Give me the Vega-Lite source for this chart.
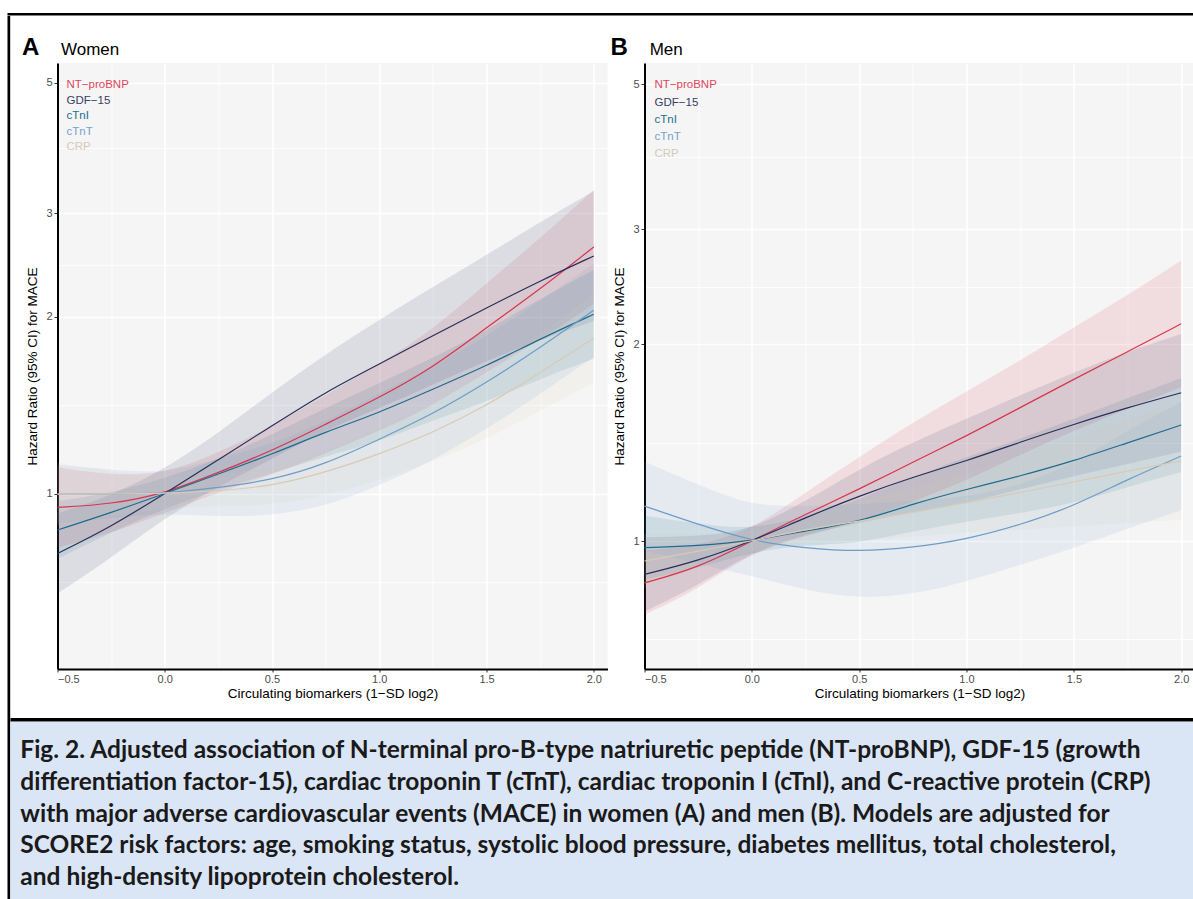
{
  "$schema": "https://vega.github.io/schema/vega-lite/v6.json",
  "padding": {"left": 7.5, "top": 13, "right": 0, "bottom": 0},
  "autosize": {"type": "pad"},
  "background": "white",
  "config": {
    "view": {"stroke": null},
    "font": "Liberation Sans",
    "axis": {"labelFont": "Liberation Sans", "titleFont": "Liberation Sans"},
    "legend": {"labelFont": "Liberation Sans"}
  },
  "datasets": {
    "women": [
      {"m": "NT−proBNP", "x": -0.5, "hr": 0.947, "lo": 0.809, "hi": 1.108},
      {"m": "NT−proBNP", "x": -0.25, "hr": 0.959, "lo": 0.856, "hi": 1.074},
      {"m": "NT−proBNP", "x": 0, "hr": 1, "lo": 0.926, "hi": 1.08},
      {"m": "NT−proBNP", "x": 0.25, "hr": 1.086, "lo": 1.006, "hi": 1.173},
      {"m": "NT−proBNP", "x": 0.5, "hr": 1.182, "lo": 1.075, "hi": 1.3},
      {"m": "NT−proBNP", "x": 0.75, "hr": 1.312, "lo": 1.171, "hi": 1.469},
      {"m": "NT−proBNP", "x": 1, "hr": 1.456, "lo": 1.277, "hi": 1.66},
      {"m": "NT−proBNP", "x": 1.25, "hr": 1.638, "lo": 1.412, "hi": 1.9},
      {"m": "NT−proBNP", "x": 1.5, "hr": 1.916, "lo": 1.61, "hi": 2.28},
      {"m": "NT−proBNP", "x": 1.75, "hr": 2.226, "lo": 1.825, "hi": 2.716},
      {"m": "NT−proBNP", "x": 2, "hr": 2.627, "lo": 2.102, "hi": 3.284},
      {"m": "GDF−15", "x": -0.5, "hr": 0.791, "lo": 0.676, "hi": 0.925},
      {"m": "GDF−15", "x": -0.25, "hr": 0.878, "lo": 0.777, "hi": 0.992},
      {"m": "GDF−15", "x": 0, "hr": 1, "lo": 0.909, "hi": 1.1},
      {"m": "GDF−15", "x": 0.25, "hr": 1.142, "lo": 1.029, "hi": 1.268},
      {"m": "GDF−15", "x": 0.5, "hr": 1.304, "lo": 1.144, "hi": 1.487},
      {"m": "GDF−15", "x": 0.75, "hr": 1.489, "lo": 1.284, "hi": 1.727},
      {"m": "GDF−15", "x": 1, "hr": 1.66, "lo": 1.395, "hi": 1.975},
      {"m": "GDF−15", "x": 1.25, "hr": 1.856, "lo": 1.534, "hi": 2.246},
      {"m": "GDF−15", "x": 1.5, "hr": 2.07, "lo": 1.683, "hi": 2.546},
      {"m": "GDF−15", "x": 1.75, "hr": 2.3, "lo": 1.825, "hi": 2.898},
      {"m": "GDF−15", "x": 2, "hr": 2.536, "lo": 1.966, "hi": 3.271},
      {"m": "cTnI", "x": -0.5, "hr": 0.867, "lo": 0.774, "hi": 0.971},
      {"m": "cTnI", "x": -0.25, "hr": 0.928, "lo": 0.859, "hi": 1.002},
      {"m": "cTnI", "x": 0, "hr": 1, "lo": 0.943, "hi": 1.06},
      {"m": "cTnI", "x": 0.25, "hr": 1.079, "lo": 1.018, "hi": 1.144},
      {"m": "cTnI", "x": 0.5, "hr": 1.167, "lo": 1.081, "hi": 1.26},
      {"m": "cTnI", "x": 0.75, "hr": 1.273, "lo": 1.157, "hi": 1.4},
      {"m": "cTnI", "x": 1, "hr": 1.373, "lo": 1.226, "hi": 1.538},
      {"m": "cTnI", "x": 1.25, "hr": 1.505, "lo": 1.332, "hi": 1.701},
      {"m": "cTnI", "x": 1.5, "hr": 1.649, "lo": 1.434, "hi": 1.896},
      {"m": "cTnI", "x": 1.75, "hr": 1.832, "lo": 1.566, "hi": 2.143},
      {"m": "cTnI", "x": 2, "hr": 2.018, "lo": 1.696, "hi": 2.401},
      {"m": "cTnT", "x": -0.5, "hr": 0.998, "lo": 0.891, "hi": 1.118},
      {"m": "cTnT", "x": -0.25, "hr": 0.999, "lo": 0.908, "hi": 1.099},
      {"m": "cTnT", "x": 0, "hr": 1, "lo": 0.926, "hi": 1.08},
      {"m": "cTnT", "x": 0.25, "hr": 1.024, "lo": 0.914, "hi": 1.147},
      {"m": "cTnT", "x": 0.5, "hr": 1.054, "lo": 0.917, "hi": 1.212},
      {"m": "cTnT", "x": 0.75, "hr": 1.122, "lo": 0.951, "hi": 1.324},
      {"m": "cTnT", "x": 1, "hr": 1.237, "lo": 1.031, "hi": 1.484},
      {"m": "cTnT", "x": 1.25, "hr": 1.365, "lo": 1.138, "hi": 1.638},
      {"m": "cTnT", "x": 1.5, "hr": 1.544, "lo": 1.287, "hi": 1.853},
      {"m": "cTnT", "x": 1.75, "hr": 1.771, "lo": 1.476, "hi": 2.125},
      {"m": "cTnT", "x": 2, "hr": 2.05, "lo": 1.708, "hi": 2.46},
      {"m": "CRP", "x": -0.5, "hr": 0.998, "lo": 0.883, "hi": 1.128},
      {"m": "CRP", "x": -0.25, "hr": 0.999, "lo": 0.917, "hi": 1.089},
      {"m": "CRP", "x": 0, "hr": 1, "lo": 0.943, "hi": 1.06},
      {"m": "CRP", "x": 0.25, "hr": 1.01, "lo": 0.953, "hi": 1.071},
      {"m": "CRP", "x": 0.5, "hr": 1.03, "lo": 0.954, "hi": 1.112},
      {"m": "CRP", "x": 0.75, "hr": 1.086, "lo": 0.996, "hi": 1.184},
      {"m": "CRP", "x": 1, "hr": 1.167, "lo": 1.051, "hi": 1.295},
      {"m": "CRP", "x": 1.25, "hr": 1.27, "lo": 1.134, "hi": 1.422},
      {"m": "CRP", "x": 1.5, "hr": 1.41, "lo": 1.237, "hi": 1.607},
      {"m": "CRP", "x": 1.75, "hr": 1.606, "lo": 1.384, "hi": 1.863},
      {"m": "CRP", "x": 2, "hr": 1.838, "lo": 1.545, "hi": 2.187}
    ],
    "men": [
      {"m": "NT−proBNP", "x": -0.5, "hr": 0.863, "lo": 0.771, "hi": 0.967},
      {"m": "NT−proBNP", "x": -0.25, "hr": 0.91, "lo": 0.843, "hi": 0.983},
      {"m": "NT−proBNP", "x": 0, "hr": 1, "lo": 0.962, "hi": 1.04},
      {"m": "NT−proBNP", "x": 0.25, "hr": 1.099, "lo": 1.018, "hi": 1.187},
      {"m": "NT−proBNP", "x": 0.5, "hr": 1.2, "lo": 1.071, "hi": 1.344},
      {"m": "NT−proBNP", "x": 0.75, "hr": 1.321, "lo": 1.149, "hi": 1.519},
      {"m": "NT−proBNP", "x": 1, "hr": 1.448, "lo": 1.238, "hi": 1.694},
      {"m": "NT−proBNP", "x": 1.25, "hr": 1.6, "lo": 1.356, "hi": 1.888},
      {"m": "NT−proBNP", "x": 1.5, "hr": 1.769, "lo": 1.474, "hi": 2.123},
      {"m": "NT−proBNP", "x": 1.75, "hr": 1.948, "lo": 1.597, "hi": 2.377},
      {"m": "NT−proBNP", "x": 2, "hr": 2.15, "lo": 1.72, "hi": 2.688},
      {"m": "GDF−15", "x": -0.5, "hr": 0.889, "lo": 0.78, "hi": 1.013},
      {"m": "GDF−15", "x": -0.25, "hr": 0.932, "lo": 0.855, "hi": 1.016},
      {"m": "GDF−15", "x": 0, "hr": 1, "lo": 0.962, "hi": 1.04},
      {"m": "GDF−15", "x": 0.25, "hr": 1.086, "lo": 1.025, "hi": 1.151},
      {"m": "GDF−15", "x": 0.5, "hr": 1.172, "lo": 1.065, "hi": 1.289},
      {"m": "GDF−15", "x": 0.75, "hr": 1.253, "lo": 1.109, "hi": 1.416},
      {"m": "GDF−15", "x": 1, "hr": 1.326, "lo": 1.143, "hi": 1.538},
      {"m": "GDF−15", "x": 1.25, "hr": 1.417, "lo": 1.201, "hi": 1.672},
      {"m": "GDF−15", "x": 1.5, "hr": 1.509, "lo": 1.258, "hi": 1.811},
      {"m": "GDF−15", "x": 1.75, "hr": 1.6, "lo": 1.311, "hi": 1.952},
      {"m": "GDF−15", "x": 2, "hr": 1.686, "lo": 1.371, "hi": 2.074},
      {"m": "cTnI", "x": -0.5, "hr": 0.977, "lo": 0.872, "hi": 1.094},
      {"m": "cTnI", "x": -0.25, "hr": 0.983, "lo": 0.91, "hi": 1.062},
      {"m": "cTnI", "x": 0, "hr": 1, "lo": 0.962, "hi": 1.04},
      {"m": "cTnI", "x": 0.25, "hr": 1.036, "lo": 0.987, "hi": 1.088},
      {"m": "cTnI", "x": 0.5, "hr": 1.07, "lo": 0.991, "hi": 1.156},
      {"m": "cTnI", "x": 0.75, "hr": 1.14, "lo": 1.036, "hi": 1.254},
      {"m": "cTnI", "x": 1, "hr": 1.2, "lo": 1.071, "hi": 1.344},
      {"m": "cTnI", "x": 1.25, "hr": 1.257, "lo": 1.103, "hi": 1.433},
      {"m": "cTnI", "x": 1.5, "hr": 1.326, "lo": 1.143, "hi": 1.538},
      {"m": "cTnI", "x": 1.75, "hr": 1.414, "lo": 1.209, "hi": 1.654},
      {"m": "cTnI", "x": 2, "hr": 1.505, "lo": 1.275, "hi": 1.776},
      {"m": "cTnT", "x": -0.5, "hr": 1.131, "lo": 0.967, "hi": 1.323},
      {"m": "cTnT", "x": -0.25, "hr": 1.06, "lo": 0.922, "hi": 1.219},
      {"m": "cTnT", "x": 0, "hr": 1, "lo": 0.885, "hi": 1.13},
      {"m": "cTnT", "x": 0.25, "hr": 0.975, "lo": 0.841, "hi": 1.131},
      {"m": "cTnT", "x": 0.5, "hr": 0.963, "lo": 0.816, "hi": 1.136},
      {"m": "cTnT", "x": 0.75, "hr": 0.977, "lo": 0.828, "hi": 1.153},
      {"m": "cTnT", "x": 1, "hr": 1.006, "lo": 0.867, "hi": 1.167},
      {"m": "cTnT", "x": 1.25, "hr": 1.058, "lo": 0.92, "hi": 1.217},
      {"m": "cTnT", "x": 1.5, "hr": 1.131, "lo": 0.975, "hi": 1.312},
      {"m": "cTnT", "x": 1.75, "hr": 1.243, "lo": 1.045, "hi": 1.479},
      {"m": "cTnT", "x": 2, "hr": 1.349, "lo": 1.115, "hi": 1.632},
      {"m": "CRP", "x": -0.5, "hr": 0.932, "lo": 0.847, "hi": 1.025},
      {"m": "CRP", "x": -0.25, "hr": 0.965, "lo": 0.91, "hi": 1.023},
      {"m": "CRP", "x": 0, "hr": 1, "lo": 0.971, "hi": 1.03},
      {"m": "CRP", "x": 0.25, "hr": 1.042, "lo": 0.992, "hi": 1.094},
      {"m": "CRP", "x": 0.5, "hr": 1.073, "lo": 1.003, "hi": 1.148},
      {"m": "CRP", "x": 0.75, "hr": 1.105, "lo": 1.014, "hi": 1.204},
      {"m": "CRP", "x": 1, "hr": 1.145, "lo": 1.032, "hi": 1.271},
      {"m": "CRP", "x": 1.25, "hr": 1.186, "lo": 1.04, "hi": 1.352},
      {"m": "CRP", "x": 1.5, "hr": 1.232, "lo": 1.053, "hi": 1.441},
      {"m": "CRP", "x": 1.75, "hr": 1.28, "lo": 1.067, "hi": 1.536},
      {"m": "CRP", "x": 2, "hr": 1.326, "lo": 1.078, "hi": 1.631}
    ],
    "caption": [
      {"i": 1, "t": "Fig. 2.  Adjusted association of N-terminal pro-B-type natriuretic peptide (NT-proBNP), GDF-15 (growth"},
      {"i": 2, "t": "differentiation factor-15), cardiac troponin T (cTnT), cardiac troponin I (cTnI), and C-reactive protein (CRP)"},
      {"i": 3, "t": "with major adverse cardiovascular events (MACE) in women (A) and men (B). Models are adjusted for"},
      {"i": 4, "t": "SCORE2 risk factors: age, smoking status, systolic blood pressure, diabetes mellitus, total cholesterol,"},
      {"i": 5, "t": "and high-density lipoprotein cholesterol."}
    ]
  },
  "bounds": "flush",
  "spacing": 0,
  "vconcat": [
    {"width": 1185.5, "height": 2.5, "view": {"fill": "black"}, "data": {"values": []}, "mark": "rect", "encoding": {}},
    {
      "bounds": "flush",
      "spacing": 0,
      "hconcat": [
        {"width": 2.7, "height": 883.5, "view": {"fill": "black"}, "data": {"values": []}, "mark": "rect", "encoding": {}},
        {
          "bounds": "flush",
          "spacing": 0,
          "vconcat": [
            {"width": 1182.8, "height": 46.5, "data": {"values": []}, "mark": "rect", "encoding": {}},
            {
              "bounds": "flush",
              "spacing": 0,
              "resolve": {"scale": {"color": "independent"}, "legend": {"color": "independent"}},
              "hconcat": [
                {
                  "width": 46.3, "height": 606, "data": {"values": []}, "mark": "rect", "encoding": {},
                  "title": {"text": "A", "anchor": "start", "frame": "group", "dx": 11.5, "offset": -15.5, "fontSize": 24, "fontWeight": "bold", "font": "Liberation Sans", "color": "black", "baseline": "alphabetic"}
                },
                {
                  "width": 550, "height": 606,
                  "view": {"fill": "#f5f5f5"},
                  "title": {"text": "Women", "anchor": "start", "frame": "group", "dx": 3.5, "offset": -9, "fontSize": 17, "fontWeight": "normal", "font": "Liberation Sans", "color": "black", "baseline": "alphabetic"},
                  "data": {"name": "women"},
                  "layer": [
                    {
                      "mark": {"type": "area", "opacity": 0.12, "interpolate": "basis"},
                      "encoding": {
                        "x": {"field": "x", "type": "quantitative", "scale": {"domain": [-0.5, 2.064], "nice": false, "zero": false},
                          "axis": {"orient": "bottom", "title": "Circulating biomarkers (1−SD log2)",
                            "values": [-0.5, -0.25, 0, 0.25, 0.5, 0.75, 1, 1.25, 1.5, 1.75, 2],
                            "labelExpr": "(datum.value * 2) % 1 === 0 ? replace(format(datum.value, '.1f'), '-', '−') : ''",
                            "grid": true, "gridColor": "white",
                            "gridWidth": {"condition": {"test": "(datum.value * 2) % 1 === 0", "value": 1.6}, "value": 0.8},
                            "tickOpacity": {"condition": {"test": "(datum.value * 2) % 1 === 0", "value": 1}, "value": 0},
                            "tickSize": 3, "tickColor": "#333333", "tickWidth": 1,
                            "domainColor": "black", "domainWidth": 2,
                            "labelFontSize": 11, "labelColor": "#4d4d4d", "labelPadding": 1, "labelOverlap": false,
                            "titleFontSize": 13.5, "titleFontWeight": "normal", "titleColor": "black", "titlePadding": 2}},
                        "y": {"field": "lo", "type": "quantitative", "scale": {"type": "log", "domain": [0.503, 5.4], "nice": false},
                          "axis": {"title": "Hazard Ratio (95% CI) for MACE",
                            "values": [0.7071, 1, 1.4142, 2, 2.4495, 3, 3.873, 5],
                            "format": "~g",
                            "labelExpr": "indexof([1,2,3,5], datum.value) >= 0 ? datum.label : ''",
                            "grid": true, "gridColor": "white",
                            "gridWidth": {"condition": {"test": "indexof([1,2,3,5], datum.value) >= 0", "value": 1.6}, "value": 0.8},
                            "tickOpacity": {"condition": {"test": "indexof([1,2,3,5], datum.value) >= 0", "value": 1}, "value": 0},
                            "tickSize": 3.5, "tickColor": "#333333", "tickWidth": 1,
                            "domainColor": "black", "domainWidth": 2,
                            "labelFontSize": 11, "labelColor": "#4d4d4d", "labelPadding": 2, "labelOverlap": false,
                            "titleFontSize": 13.5, "titleFontWeight": "normal", "titleColor": "black", "titlePadding": 6}},
                        "y2": {"field": "hi"},
                        "color": {"field": "m", "type": "nominal",
                          "scale": {"domain": ["NT−proBNP", "GDF−15", "cTnI", "cTnT", "CRP"], "range": ["#d9344e", "#2a2e5a", "#1f6b8c", "#6e9cc8", "#d8cab5"]},
                          "legend": {"orient": "none", "legendX": -2.5, "legendY": 16.5, "title": null, "padding": 0,
                            "symbolSize": 0, "symbolOpacity": 0, "symbolStrokeWidth": 0, "labelOffset": 0,
                            "labelFontSize": 11.5, "rowPadding": 2.5,
                            "encode": {"labels": {"update": {"fill": {"signal": "datum.value === 'NT−proBNP' ? '#e0455d' : datum.value === 'GDF−15' ? '#3a3e64' : datum.value === 'cTnI' ? '#256f8e' : datum.value === 'cTnT' ? '#77a2cd' : '#d6cab8'"}}}}}}
                      }
                    },
                    {
                      "mark": {"type": "line", "strokeWidth": 1.2, "interpolate": "basis"},
                      "encoding": {
                        "x": {"field": "x", "type": "quantitative"},
                        "y": {"field": "hr", "type": "quantitative"},
                        "color": {"field": "m", "type": "nominal"}
                      }
                    }
                  ]
                },
                {
                  "width": 36.5, "height": 606, "data": {"values": []}, "mark": "rect", "encoding": {},
                  "title": {"text": "B", "anchor": "start", "frame": "group", "dx": 3, "offset": -15.5, "fontSize": 24, "fontWeight": "bold", "font": "Liberation Sans", "color": "black", "baseline": "alphabetic"}
                },
                {
                  "width": 550, "height": 606,
                  "view": {"fill": "#f5f5f5"},
                  "title": {"text": "Men", "anchor": "start", "frame": "group", "dx": 5.2, "offset": -9, "fontSize": 17, "fontWeight": "normal", "font": "Liberation Sans", "color": "black", "baseline": "alphabetic"},
                  "data": {"name": "men"},
                  "layer": [
                    {
                      "mark": {"type": "area", "opacity": 0.12, "interpolate": "basis"},
                      "encoding": {
                        "x": {"field": "x", "type": "quantitative", "scale": {"domain": [-0.5, 2.062], "nice": false, "zero": false},
                          "axis": {"orient": "bottom", "title": "Circulating biomarkers (1−SD log2)",
                            "values": [-0.5, -0.25, 0, 0.25, 0.5, 0.75, 1, 1.25, 1.5, 1.75, 2],
                            "labelExpr": "(datum.value * 2) % 1 === 0 ? replace(format(datum.value, '.1f'), '-', '−') : ''",
                            "grid": true, "gridColor": "white",
                            "gridWidth": {"condition": {"test": "(datum.value * 2) % 1 === 0", "value": 1.6}, "value": 0.8},
                            "tickOpacity": {"condition": {"test": "(datum.value * 2) % 1 === 0", "value": 1}, "value": 0},
                            "tickSize": 3, "tickColor": "#333333", "tickWidth": 1,
                            "domainColor": "black", "domainWidth": 2,
                            "labelFontSize": 11, "labelColor": "#4d4d4d", "labelPadding": 1, "labelOverlap": false,
                            "titleFontSize": 13.5, "titleFontWeight": "normal", "titleColor": "black", "titlePadding": 2}},
                        "y": {"field": "lo", "type": "quantitative", "scale": {"type": "log", "domain": [0.637, 5.39], "nice": false},
                          "axis": {"title": "Hazard Ratio (95% CI) for MACE",
                            "values": [0.7071, 1, 1.4142, 2, 2.4495, 3, 3.873, 5],
                            "format": "~g",
                            "labelExpr": "indexof([1,2,3,5], datum.value) >= 0 ? datum.label : ''",
                            "grid": true, "gridColor": "white",
                            "gridWidth": {"condition": {"test": "indexof([1,2,3,5], datum.value) >= 0", "value": 1.6}, "value": 0.8},
                            "tickOpacity": {"condition": {"test": "indexof([1,2,3,5], datum.value) >= 0", "value": 1}, "value": 0},
                            "tickSize": 3.5, "tickColor": "#333333", "tickWidth": 1,
                            "domainColor": "black", "domainWidth": 2,
                            "labelFontSize": 11, "labelColor": "#4d4d4d", "labelPadding": 2, "labelOverlap": false,
                            "titleFontSize": 13.5, "titleFontWeight": "normal", "titleColor": "black", "titlePadding": 6}},
                        "y2": {"field": "hi"},
                        "color": {"field": "m", "type": "nominal",
                          "scale": {"domain": ["NT−proBNP", "GDF−15", "cTnI", "cTnT", "CRP"], "range": ["#d9344e", "#2a2e5a", "#1f6b8c", "#6e9cc8", "#d8cab5"]},
                          "legend": {"orient": "none", "legendX": -1.5, "legendY": 16.5, "title": null, "padding": 0,
                            "symbolSize": 0, "symbolOpacity": 0, "symbolStrokeWidth": 0, "labelOffset": 0,
                            "labelFontSize": 11.5, "rowPadding": 4.3,
                            "encode": {"labels": {"update": {"fill": {"signal": "datum.value === 'NT−proBNP' ? '#e0455d' : datum.value === 'GDF−15' ? '#3a3e64' : datum.value === 'cTnI' ? '#256f8e' : datum.value === 'cTnT' ? '#77a2cd' : '#d6cab8'"}}}}}}
                      }
                    },
                    {
                      "mark": {"type": "line", "strokeWidth": 1.2, "interpolate": "basis"},
                      "encoding": {
                        "x": {"field": "x", "type": "quantitative"},
                        "y": {"field": "hr", "type": "quantitative"},
                        "color": {"field": "m", "type": "nominal"}
                      }
                    }
                  ]
                }
              ]
            },
            {"width": 1182.8, "height": 655, "data": {"values": []}, "mark": "rect", "encoding": {}},
            {"width": 1182.8, "height": 3.5, "view": {"fill": "black"}, "data": {"values": []}, "mark": "rect", "encoding": {}},
            {
              "width": 1182.8, "height": 178.5,
              "view": {"fill": "#dae6f6"},
              "data": {"name": "caption"},
              "mark": {"type": "text", "align": "left", "baseline": "middle", "font": "Lato", "fontSize": 24.5, "fontWeight": "bold", "color": "#1a1a1a", "dx": 9.8, "limit": 1172},
              "encoding": {
                "x": {"datum": 0, "type": "quantitative", "scale": {"domain": [0, 1]}, "axis": null},
                "y": {"field": "i", "type": "ordinal", "axis": null, "scale": {"type": "point", "padding": 0.824, "align": 0.566}},
                "text": {"field": "t"}
              }
            }
          ]
        }
      ]
    }
  ]
}
